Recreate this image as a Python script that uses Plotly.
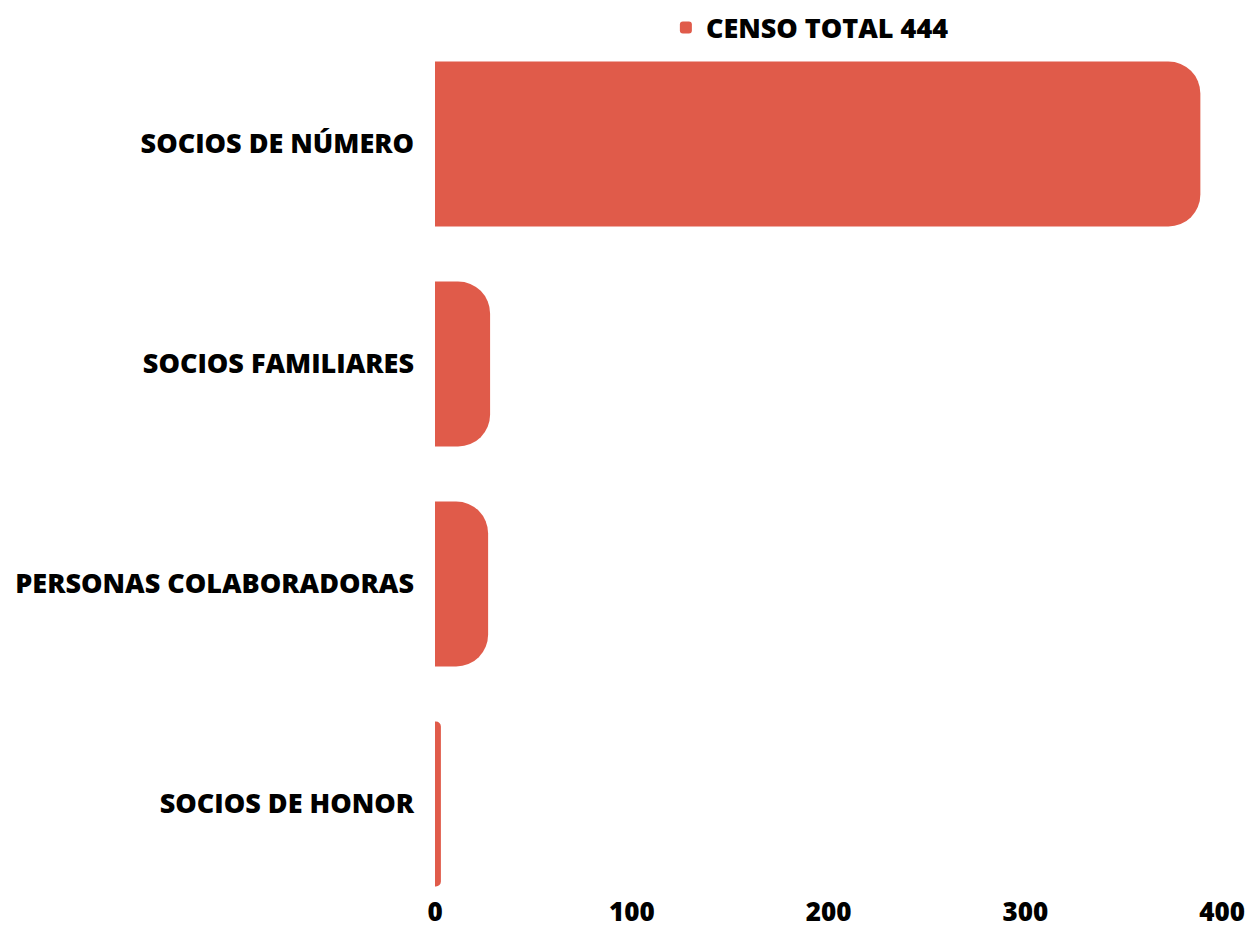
import plotly.graph_objects as go

categories = ["SOCIOS DE NÚMERO", "SOCIOS FAMILIARES", "PERSONAS COLABORADORAS", "SOCIOS DE HONOR"]
values = [389, 28, 27, 3]
series_name = "CENSO TOTAL 444"
x_ticks = [0, 100, 200, 300, 400]

BAR_COLOR = "#E05B4A"
FONT = dict(family="Open Sans", size=27, color="#000000", weight=800)
TICK_FONT = dict(family="Open Sans", size=26, color="#000000", weight=800)

fig = go.Figure()
fig.add_trace(go.Bar(
    y=categories,
    x=values,
    orientation="h",
    name=series_name,
    marker=dict(color=BAR_COLOR, cornerradius=32, line=dict(width=0)),
    showlegend=True,
))

fig.update_layout(
    width=1250,
    height=922,
    margin=dict(l=427, r=36, t=26, b=38, autoexpand=False),
    paper_bgcolor="white",
    plot_bgcolor="white",
    font=FONT,
    bargap=0.25,
    showlegend=True,
    legend=dict(
        orientation="h",
        xref="container",
        yref="container",
        x=0.6415,
        xanchor="center",
        y=1 - 20 / 922,
        yanchor="middle",
        font=FONT,
        bgcolor="rgba(0,0,0,0)",
    ),
    xaxis=dict(
        range=[0, 400],
        tickvals=x_ticks,
        showgrid=False,
        zeroline=False,
        showline=False,
        ticks="",
        tickfont=TICK_FONT,
        ticklabelstandoff=2,
        automargin=False,
        fixedrange=True,
    ),
    yaxis=dict(
        categoryorder="array",
        categoryarray=categories,
        range=[3.4, -0.5],
        showgrid=False,
        zeroline=False,
        showline=False,
        ticks="",
        tickfont=FONT,
        ticklabelstandoff=20,
        automargin=False,
    ),
)

fig.write_html("out.html")
